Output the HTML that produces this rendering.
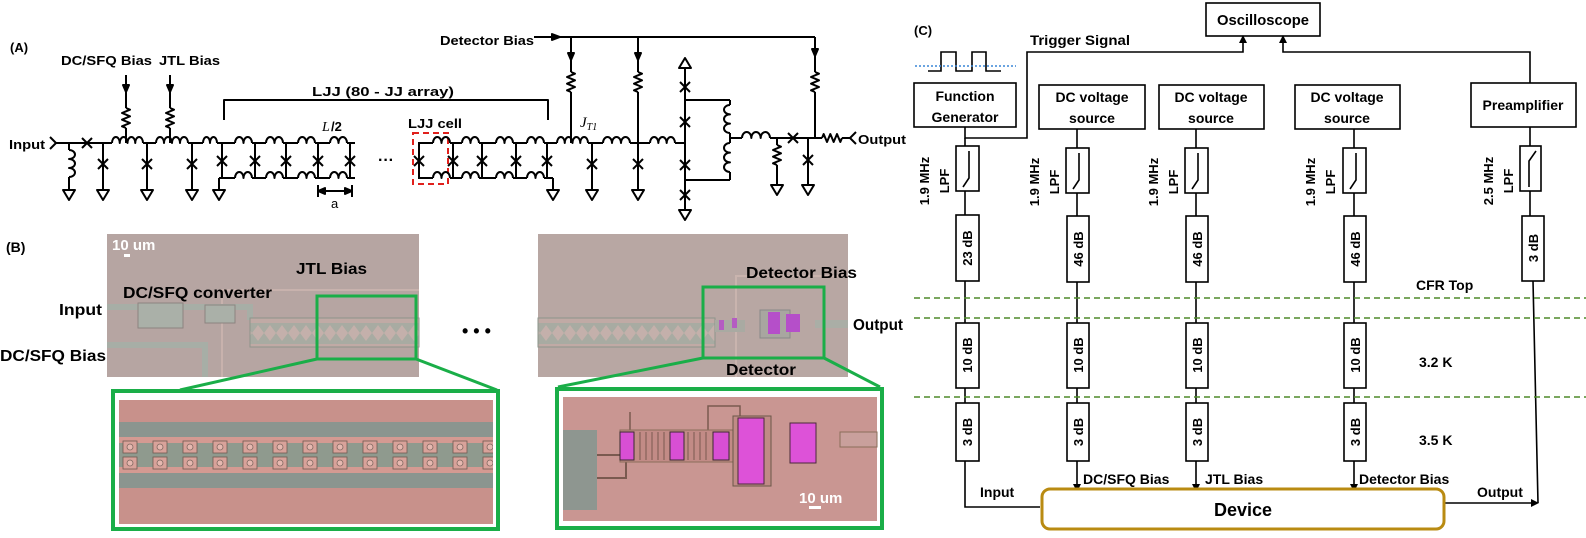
<!DOCTYPE html>
<html><head><meta charset="utf-8">
<style>
html,body{margin:0;padding:0;background:#fff;}
svg{display:block;}
text{font-family:"Liberation Sans",Arial,sans-serif;font-weight:bold;fill:#000;}
</style></head>
<body>
<svg id="S" xmlns="http://www.w3.org/2000/svg" width="1586" height="538" viewBox="0 0 1586 538">
<defs>
<pattern id="ljj" x="0" y="0" width="12" height="29" patternUnits="userSpaceOnUse">
<rect width="12" height="29" fill="#a8aba2"/>
<path d="M0 14 L6 6 L12 14 L6 22 Z" fill="#c4b0ab"/>
<rect x="0" y="0" width="12" height="4" fill="#c0aaa5"/>
<rect x="0" y="25" width="12" height="4" fill="#c0aaa5"/>
</pattern>
<pattern id="cells" x="119" y="437" width="30" height="36" patternUnits="userSpaceOnUse">
<rect width="30" height="36" fill="#8f9a8e"/>
<rect x="0" y="0" width="30" height="6" fill="#d49a92"/>
<rect x="0" y="30" width="30" height="6" fill="#d49a92"/>
<rect x="4" y="4" width="14" height="12" fill="#d8a29a" stroke="#6e5a50" stroke-width="0.8"/>
<rect x="4" y="20" width="14" height="12" fill="#d8a29a" stroke="#6e5a50" stroke-width="0.8"/>
<circle cx="11" cy="10" r="3" fill="#e6b8b0" stroke="#806860" stroke-width="0.8"/>
<circle cx="11" cy="26" r="3" fill="#e6b8b0" stroke="#806860" stroke-width="0.8"/>
</pattern>
</defs>

<!-- ===== Panel A text ===== -->
<text x="10" y="52" font-size="13">(A)</text>
<text x="61" y="65" font-size="13" textLength="91" lengthAdjust="spacingAndGlyphs">DC/SFQ Bias</text>
<text x="159" y="65" font-size="13" textLength="61" lengthAdjust="spacingAndGlyphs">JTL Bias</text>
<text x="440" y="45" font-size="13" textLength="94" lengthAdjust="spacingAndGlyphs">Detector Bias</text>
<text x="312" y="96" font-size="13" textLength="142" lengthAdjust="spacingAndGlyphs">LJJ (80 - JJ array)</text>
<text x="9" y="149" font-size="13" textLength="36" lengthAdjust="spacingAndGlyphs">Input</text>
<text x="322" y="131" font-size="14" font-style="italic" style="font-family:'Liberation Serif',serif;font-weight:normal">L</text>
<text x="331" y="131" font-size="13">/2</text>
<text x="408" y="128" font-size="13" textLength="54" lengthAdjust="spacingAndGlyphs">LJJ cell</text>
<text x="331" y="208" font-size="13" style="font-weight:normal">a</text>
<text x="580" y="127" font-size="15" font-style="italic" style="font-family:'Liberation Serif',serif;font-weight:normal">J<tspan font-size="10" dy="3">T1</tspan></text>
<text x="858" y="144" font-size="13" textLength="48" lengthAdjust="spacingAndGlyphs">Output</text>
<text x="378" y="165" font-size="16">···</text>
<rect x="413" y="133" width="35" height="51" fill="none" stroke="#e0201c" stroke-width="2" stroke-dasharray="6,4"/>

<g id="A" stroke="#000" stroke-width="2" fill="none" stroke-linejoin="round"></g>

<!-- ===== Panel B ===== -->
<text x="6" y="252" font-size="14">(B)</text>
<rect x="107" y="234" width="312" height="143" fill="#b6a5a2"/>
<path d="M222 377 L222 290 L419 290" stroke="#c8b2ad" stroke-width="2" fill="none"/>
<path d="M107 307 L250 307 L250 320" stroke="#a7aea6" stroke-width="6" fill="none"/>
<path d="M107 345 L205 345 L205 377" stroke="#a7aea6" stroke-width="6" fill="none"/>
<rect x="138" y="303" width="45" height="25" fill="#aab0a8" stroke="#8c8480"/>
<rect x="205" y="305" width="30" height="18" fill="#aab0a8" stroke="#8c8480"/>
<rect x="250" y="318" width="169" height="29" fill="url(#ljj)" stroke="#8d948b"/>
<text x="112" y="250" font-size="15" style="fill:#fff">10 um</text>
<rect x="124" y="254" width="6" height="3" fill="#fff"/>
<text x="296" y="274" font-size="16" textLength="71" lengthAdjust="spacingAndGlyphs">JTL Bias</text>
<text x="123" y="298" font-size="16" textLength="149" lengthAdjust="spacingAndGlyphs">DC/SFQ converter</text>
<text x="59" y="315" font-size="16" textLength="43" lengthAdjust="spacingAndGlyphs">Input</text>
<text x="0" y="361" font-size="16" textLength="106" lengthAdjust="spacingAndGlyphs">DC/SFQ Bias</text>
<rect x="317" y="296" width="99" height="63" fill="none" stroke="#1aae48" stroke-width="3"/>
<path d="M317 359 L180 390 M416 359 L497 390" stroke="#1aae48" stroke-width="3" fill="none"/>
<rect x="113" y="391" width="385" height="138" fill="#fff" stroke="#1aae48" stroke-width="4"/>
<rect x="119" y="400" width="374" height="124" fill="#c8918b"/>
<rect x="119" y="422" width="374" height="15" fill="#8b958f"/>
<rect x="119" y="473" width="374" height="15" fill="#8b958f"/>
<rect x="119" y="437" width="374" height="36" fill="url(#cells)"/>
<text x="462" y="337" font-size="18">• • •</text>

<rect x="538" y="234" width="310" height="143" fill="#b8a7a3"/>
<path d="M736 377 L736 276 L848 276" stroke="#c9b4ae" stroke-width="2" fill="none"/>
<rect x="538" y="318" width="177" height="29" fill="url(#ljj)" stroke="#8d948b"/>
<rect x="715" y="320" width="30" height="12" fill="#a9aaa2"/>
<rect x="719" y="320" width="5" height="10" fill="#b45cc2"/>
<rect x="732" y="318" width="5" height="10" fill="#b45cc2"/>
<rect x="760" y="310" width="30" height="28" fill="#a8a6a0" stroke="#888"/>
<rect x="768" y="312" width="12" height="22" fill="#b54fc9"/>
<rect x="786" y="314" width="14" height="18" fill="#b54fc9"/>
<rect x="815" y="320" width="33" height="8" fill="#aaaea6"/>
<text x="746" y="278" font-size="16" textLength="111" lengthAdjust="spacingAndGlyphs">Detector Bias</text>
<text x="853" y="330" font-size="16" textLength="50" lengthAdjust="spacingAndGlyphs">Output</text>
<text x="726" y="375" font-size="16" textLength="70" lengthAdjust="spacingAndGlyphs">Detector</text>
<rect x="703" y="287" width="121" height="71" fill="none" stroke="#1aae48" stroke-width="3"/>
<path d="M703 358 L558 387 M824 358 L880 387" stroke="#1aae48" stroke-width="3" fill="none"/>
<rect x="557" y="389" width="325" height="139" fill="#fff" stroke="#1aae48" stroke-width="4"/>
<rect x="563" y="397" width="314" height="124" fill="#c99692"/>
<rect x="563" y="430" width="34" height="80" fill="#8e9690"/>
<path d="M597 455 L650 455 L650 440 L760 440 M597 478 L626 478 L626 445" stroke="#7a5a50" stroke-width="2" fill="none"/>
<path d="M630 412 L630 435 L708 435 L708 406 L740 406 L740 420" stroke="#7a5a50" stroke-width="1.5" fill="none"/>
<rect x="620" y="430" width="150" height="32" fill="#c28b86" stroke="#8a6e5a" stroke-width="1"/>
<path d="M640 432 v28 M646 432 v28 M652 432 v28 M658 432 v28 M664 432 v28 M688 432 v28 M694 432 v28 M700 432 v28 M706 432 v28" stroke="#7a5a50" stroke-width="1"/>
<rect x="620" y="432" width="14" height="28" fill="#d84fd4" stroke="#3a2a30"/>
<rect x="670" y="432" width="14" height="28" fill="#d84fd4" stroke="#3a2a30"/>
<rect x="713" y="432" width="16" height="28" fill="#d84fd4" stroke="#3a2a30"/>
<rect x="733" y="416" width="38" height="70" fill="#c08b86" stroke="#6a5848"/>
<rect x="738" y="418" width="26" height="66" fill="#dd52d8" stroke="#4a2a3a"/>
<rect x="790" y="423" width="26" height="40" fill="#dd52d8" stroke="#4a2a3a"/>
<rect x="840" y="432" width="37" height="15" fill="#c9a09c" stroke="#8a6e5a"/>
<text x="799" y="503" font-size="15" style="fill:#fff">10 um</text>
<rect x="809" y="506" width="12" height="3" fill="#fff"/>

<!-- ===== Panel C ===== -->
<g stroke="#000" stroke-width="1.6" fill="none">
<rect x="1206" y="3" width="114" height="33" fill="#fff"/>
<rect x="914" y="83" width="102" height="44"/>
<rect x="1039" y="85" width="106" height="44"/>
<rect x="1159" y="85" width="105" height="44"/>
<rect x="1295" y="85" width="105" height="44"/>
<rect x="1471" y="83" width="105" height="44"/>
<path d="M965 127 L965 138 L1027 138 L1027 52 L1243 52 L1243 42"/>
<path d="M1530 83 L1530 52 L1283 52 L1283 42"/>
<path d="M928 71 L941 71 L941 52 L956 52 L956 71 L972 71 L972 52 L986 52 L986 71 L1001 71"/>
<path d="M965 138 L965 146 M965 191 L965 215 M965 281 L965 323 M965 388 L965 403 M965 461 L965 507 L1040 507"/>
<path d="M1077 129 L1077 148 M1077 193 L1077 216 M1077 282 L1077 323 M1077 388 L1077 403 M1077 461 L1077 486"/>
<path d="M1196 129 L1196 148 M1196 193 L1196 216 M1196 282 L1196 323 M1196 388 L1196 403 M1196 461 L1196 486"/>
<path d="M1354 129 L1354 148 M1354 193 L1354 216 M1354 282 L1354 323 M1354 388 L1354 403 M1354 461 L1354 486"/>
<path d="M1530 127 L1530 146 M1530 191 L1530 216 M1533 281 L1538 503 M1444 503 L1532 503"/>
<rect x="956" y="146" width="23" height="45" fill="#fff"/>
<rect x="1066" y="148" width="23" height="45" fill="#fff"/>
<rect x="1185" y="148" width="23" height="45" fill="#fff"/>
<rect x="1343" y="148" width="23" height="45" fill="#fff"/>
<rect x="1520" y="146" width="21" height="45" fill="#fff"/>
<path d="M969 151 L969 178 L963 187"/>
<path d="M1079 153 L1079 180 L1073 189"/>
<path d="M1198 153 L1198 180 L1192 189"/>
<path d="M1356 153 L1356 180 L1350 189"/>
<path d="M1536 151 L1529 161 L1529 187"/>
<rect x="956" y="215" width="23" height="66" fill="#fff"/>
<rect x="1067" y="216" width="22" height="66" fill="#fff"/>
<rect x="1186" y="216" width="22" height="66" fill="#fff"/>
<rect x="1344" y="216" width="22" height="66" fill="#fff"/>
<rect x="1522" y="216" width="22" height="65" fill="#fff"/>
<rect x="956" y="323" width="23" height="65" fill="#fff"/>
<rect x="1067" y="323" width="22" height="65" fill="#fff"/>
<rect x="1186" y="323" width="22" height="65" fill="#fff"/>
<rect x="1344" y="323" width="22" height="65" fill="#fff"/>
<rect x="956" y="403" width="23" height="58" fill="#fff"/>
<rect x="1067" y="403" width="22" height="58" fill="#fff"/>
<rect x="1186" y="403" width="22" height="58" fill="#fff"/>
<rect x="1344" y="403" width="22" height="58" fill="#fff"/>
</g>
<path d="M915 66 L1016 66" stroke="#3a86d6" stroke-width="1.5" stroke-dasharray="2,2"/>
<g fill="#000">
<path d="M1239 43 L1247 43 L1243 35 Z"/>
<path d="M1279 43 L1287 43 L1283 35 Z"/>
<path d="M1041 503 L1041 511 L1048 507 Z"/>
<path d="M1073 484 L1081 484 L1077 492 Z"/>
<path d="M1192 484 L1200 484 L1196 492 Z"/>
<path d="M1350 484 L1358 484 L1354 492 Z"/>
<path d="M1531 499 L1531 507 L1539 503 Z"/>
</g>
<g stroke="#4e8a2a" stroke-width="1.5" stroke-dasharray="6,4">
<path d="M914 298 L1586 298"/><path d="M914 318 L1586 318"/><path d="M914 397 L1586 397"/>
</g>
<rect x="1042" y="489" width="402" height="40" rx="8" fill="#fff" stroke="#b98b12" stroke-width="3"/>

<text x="914" y="35" font-size="13">(C)</text>
<text x="1217" y="25" font-size="15" textLength="92" lengthAdjust="spacingAndGlyphs">Oscilloscope</text>
<text x="1030" y="45" font-size="14" textLength="100" lengthAdjust="spacingAndGlyphs">Trigger Signal</text>
<text x="965" y="101" font-size="14" text-anchor="middle">Function</text>
<text x="965" y="122" font-size="14" text-anchor="middle">Generator</text>
<text x="1092" y="102" font-size="14" text-anchor="middle">DC voltage</text>
<text x="1092" y="123" font-size="14" text-anchor="middle">source</text>
<text x="1211" y="102" font-size="14" text-anchor="middle">DC voltage</text>
<text x="1211" y="123" font-size="14" text-anchor="middle">source</text>
<text x="1347" y="102" font-size="14" text-anchor="middle">DC voltage</text>
<text x="1347" y="123" font-size="14" text-anchor="middle">source</text>
<text x="1523" y="110" font-size="14" text-anchor="middle">Preamplifier</text>
<g font-size="13">
<text transform="translate(929,181) rotate(-90)" text-anchor="middle">1.9 MHz</text>
<text transform="translate(949,181) rotate(-90)" text-anchor="middle">LPF</text>
<text transform="translate(1039,182) rotate(-90)" text-anchor="middle">1.9 MHz</text>
<text transform="translate(1059,182) rotate(-90)" text-anchor="middle">LPF</text>
<text transform="translate(1158,182) rotate(-90)" text-anchor="middle">1.9 MHz</text>
<text transform="translate(1178,182) rotate(-90)" text-anchor="middle">LPF</text>
<text transform="translate(1315,182) rotate(-90)" text-anchor="middle">1.9 MHz</text>
<text transform="translate(1335,182) rotate(-90)" text-anchor="middle">LPF</text>
<text transform="translate(1493,181) rotate(-90)" text-anchor="middle">2.5 MHz</text>
<text transform="translate(1513,181) rotate(-90)" text-anchor="middle">LPF</text>
<text transform="translate(972,248) rotate(-90)" text-anchor="middle">23 dB</text>
<text transform="translate(1083,249) rotate(-90)" text-anchor="middle">46 dB</text>
<text transform="translate(1202,249) rotate(-90)" text-anchor="middle">46 dB</text>
<text transform="translate(1360,249) rotate(-90)" text-anchor="middle">46 dB</text>
<text transform="translate(1538,248) rotate(-90)" text-anchor="middle">3 dB</text>
<text transform="translate(972,355) rotate(-90)" text-anchor="middle">10 dB</text>
<text transform="translate(1083,355) rotate(-90)" text-anchor="middle">10 dB</text>
<text transform="translate(1202,355) rotate(-90)" text-anchor="middle">10 dB</text>
<text transform="translate(1360,355) rotate(-90)" text-anchor="middle">10 dB</text>
<text transform="translate(972,432) rotate(-90)" text-anchor="middle">3 dB</text>
<text transform="translate(1083,432) rotate(-90)" text-anchor="middle">3 dB</text>
<text transform="translate(1202,432) rotate(-90)" text-anchor="middle">3 dB</text>
<text transform="translate(1360,432) rotate(-90)" text-anchor="middle">3 dB</text>
</g>
<text x="1416" y="290" font-size="14">CFR Top</text>
<text x="1419" y="367" font-size="14">3.2 K</text>
<text x="1419" y="445" font-size="14">3.5 K</text>
<text x="980" y="497" font-size="14">Input</text>
<text x="1083" y="484" font-size="14">DC/SFQ Bias</text>
<text x="1205" y="484" font-size="14">JTL Bias</text>
<text x="1359" y="484" font-size="14">Detector Bias</text>
<text x="1477" y="497" font-size="14">Output</text>
<text x="1243" y="516" font-size="18" text-anchor="middle">Device</text>
</svg>
<script>
(function(){
var ns="http://www.w3.org/2000/svg",A=document.getElementById('A');
function P(d,f){var p=document.createElementNS(ns,'path');p.setAttribute('d',d);if(f){p.setAttribute('fill','#000');}A.appendChild(p);}
function L(a,b,c,d){P('M'+a+' '+b+'L'+c+' '+d);}
function IH(x1,x2,y,n){var w=(x2-x1)/n,d='M'+x1+' '+y;for(var i=0;i<n;i++)d+=' a'+(w/2)+' 6 0 0 1 '+w+' 0';P(d);}
function IV(x,y1,y2,n){var h=(y2-y1)/n,d='M'+x+' '+y1;for(var i=0;i<n;i++)d+=' a6 '+(h/2)+' 0 0 1 0 '+h;P(d);}
function IVL(x,y1,y2,n){var h=(y2-y1)/n,d='M'+x+' '+y1;for(var i=0;i<n;i++)d+=' a6 '+(h/2)+' 0 0 0 0 '+h;P(d);}
function RV(x,y1,y2){var h=(y2-y1)/6,d='M'+x+' '+y1;for(var i=0;i<6;i++)d+=' L'+(x+(i%2?-4:4))+' '+(y1+h*(i+0.5));d+=' L'+x+' '+y2;P(d);}
function RH(x1,x2,y){var w=(x2-x1)/6,d='M'+x1+' '+y;for(var i=0;i<6;i++)d+=' L'+(x1+w*(i+0.5))+' '+(y+(i%2?4:-4));d+=' L'+x2+' '+y;P(d);}
function J(x,y){P('M'+(x-5)+' '+(y-5)+'L'+(x+5)+' '+(y+5)+'M'+(x+5)+' '+(y-5)+'L'+(x-5)+' '+(y+5));}
function G(x,y){P('M'+(x-6)+' '+y+'L'+(x+6)+' '+y+'L'+x+' '+(y+10)+'Z');}
function GU(x,y){P('M'+(x-6)+' '+y+'L'+(x+6)+' '+y+'L'+x+' '+(y-10)+'Z');}
function AD(x,y){P('M'+(x-3)+' '+(y-7)+'L'+(x+3)+' '+(y-7)+'L'+x+' '+y+'Z',1);}
var Y=143,B=178;
P('M50 137 L56 143 L50 149');
L(56,Y,112,Y);J(87,Y);
L(69,Y,69,150);IV(69,150,177,3);L(69,177,69,190);G(69,190);
[103,147,192,592,638].forEach(function(x){L(x,Y,x,190);J(x,164);G(x,190);});
IH(112,143,Y,4);L(143,Y,156,Y);IH(156,188,Y,4);L(188,Y,203,Y);IH(203,217,Y,2);L(217,Y,222,Y);
[126,170].forEach(function(x){L(x,75,x,108);AD(x,92);RV(x,108,128);L(x,128,x,Y);});
function sec(xs,extra){
 for(var i=0;i<xs.length;i++){L(xs[i],Y,xs[i],B);J(xs[i],161);}
 [Y,B].forEach(function(yy){
  L(xs[0]-1,yy,xs[0],yy);
  for(var i=0;i<xs.length-1;i++){var e=xs[i+1]-3;L(xs[i],yy,e-17,yy);IH(e-17,e,yy,2);L(e,yy,xs[i+1],yy);}
  L(xs[xs.length-1],yy,xs[xs.length-1]+extra,yy);
 });
}
sec([222,255,286,318,350],5);
sec([419,453,482,516,547],0);
L(219,B,222,B);L(219,B,219,190);G(219,190);
L(547,B,553,B);L(553,B,553,190);G(553,190);
P('M224 120 L224 100 L548 100 L548 120');
L(318,191,352,191);L(318,185,318,197);L(352,185,352,197);
P('M318 191 L325 188 L325 194 Z',1);P('M352 191 L345 188 L345 194 Z',1);
L(547,Y,557,Y);IH(557,588,Y,4);L(588,Y,603,Y);IH(603,630,Y,3);L(630,Y,650,Y);IH(650,675,Y,3);L(675,Y,685,Y);
L(534,37,815,37);P('M560 37 L552 34 L552 40 Z',1);
[571,638].forEach(function(x){L(x,37,x,72);AD(x,60);RV(x,72,92);L(x,92,x,Y);});
L(815,37,815,72);AD(815,56);RV(815,72,92);L(815,92,815,138);
L(685,68,685,210);GU(685,68);G(685,210);J(685,87);J(685,122);J(685,165);J(685,195);
L(685,100,730,100);L(730,100,730,105);IVL(730,105,133,3);L(730,133,730,143);IVL(730,143,172,3);L(730,172,730,180);L(730,180,685,180);
L(730,138,742,138);IH(742,770,138,3);L(770,138,822,138);J(793,138);RH(822,842,138);L(842,138,850,138);P('M856 132 L850 138 L856 144');
L(777,138,777,145);RV(777,145,165);L(777,165,777,185);G(777,185);
L(808,138,808,185);J(808,160);G(808,185);
})();
</script>
</body></html>
